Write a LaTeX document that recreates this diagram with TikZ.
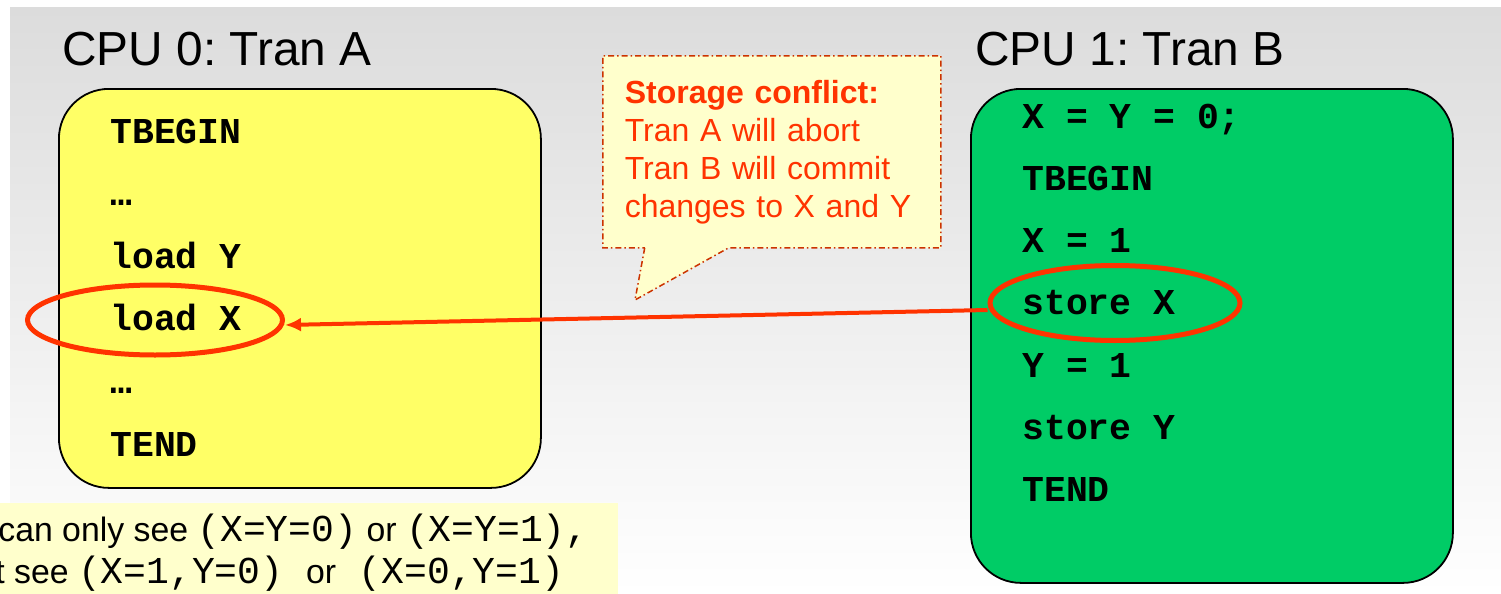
\documentclass[tikz,border=0pt]{standalone}
\usepackage{fontspec}
\setmainfont{Liberation Sans}
\setmonofont{Liberation Mono}
\usetikzlibrary{positioning,arrows.meta,shapes.geometric,shapes.callouts}
\definecolor{bggray}{RGB}{220,220,220}
\definecolor{lemon}{RGB}{255,255,102}
\definecolor{mint}{RGB}{0,204,102}
\definecolor{flame}{RGB}{255,51,0}
\definecolor{rust}{RGB}{204,51,0}
\definecolor{cream}{RGB}{255,255,204}
\frenchspacing

\begin{document}
\begin{tikzpicture}[>=Latex, x=0.5pt, y=-0.5pt,
    cpubox/.style={draw,rounded corners=25pt,line width=0.9pt,anchor=north west,
                   minimum width=241pt,inner sep=0pt},
    title/.style={anchor=base west,inner sep=0pt,font=\fontsize{23.9}{28}\selectfont},
    code/.style={anchor=base west,inner sep=0pt,font=\ttfamily\bfseries\fontsize{18.2}{22}\selectfont},
    ring/.style={ellipse,draw=flame,line width=2.5pt,inner sep=0pt},
    note/.style={anchor=base west,inner sep=0pt,font=\fontsize{16.9}{20}\selectfont}]
    \useasboundingbox (0,0) rectangle (1501,594);
    \fill[white] (0,0) rectangle (1501,594);
    \shade[top color=bggray,bottom color=white] (10,7) rectangle (1501,594);
    % the two transactions
    \node[title] (titleA) at (62,65) {CPU 0: Tran A};
    \node[title] (titleB) at (975,65) {CPU 1: Tran B};
    \node[cpubox,fill=lemon,minimum height=199.5pt] (boxA) at (58,88) {};
    \node[cpubox,fill=mint,minimum height=247pt]    (boxB) at (970,88) {};
    \foreach \txt [count=\i] in {TBEGIN,…,load Y,load X,…,TEND}
      \node[code] (a\i) at (110,{143+62.6*(\i-1)}) {\txt};
    \foreach \txt [count=\i] in {X = Y = 0;,TBEGIN,X = 1,store X,Y = 1,store Y,TEND}
      \node[code] (b\i) at (1022,{128+62.3*(\i-1)}) {\txt};
    % conflicting accesses
    \node[ring,minimum width=127.5pt,minimum height=35pt] (ringA) at (155,320) {};
    \node[ring,minimum width=125pt,minimum height=37.5pt] (ringB) at (1115,303) {};
    \draw[flame,line width=2pt,-{Latex[length=8pt,width=7pt]}]
      ([yshift=-3.5pt]ringB.west) -- ([yshift=-2.5pt]ringA.east);
    \node[rectangle callout,draw=rust,fill=cream,line width=0.75pt,
          dash pattern=on 3pt off 1.5pt on 0.75pt off 1.5pt,
          callout absolute pointer={(635,300)},callout pointer width=42pt,
          anchor=north west,minimum width=169pt,minimum height=96pt,
          text width=147pt,inner xsep=11pt,align=left,text=flame,
          font=\fontsize{16}{19}\selectfont] (conflict) at (602,55)
      {\textbf{Storage conflict:}\\Tran A will abort\\Tran B will commit\\changes to X and Y};
    % note at the bottom
    \node[fill=cream,anchor=north west,minimum width=330pt,minimum height=46pt,inner sep=0pt]
      (notebox) at (-42,503) {};
    \node[note] (note1) at (-2,541) {can only see \texttt{\fontsize{19}{20}\selectfont(X=Y=0)} or \texttt{\fontsize{19}{20}\selectfont(X=Y=1),}};
    \node[note] (note2) at (-5,583) {t see \texttt{\fontsize{19}{20}\selectfont(X=1,Y=0) }or\texttt{\fontsize{19}{20}\selectfont{} (X=0,Y=1)}};
\end{tikzpicture}
\end{document}
